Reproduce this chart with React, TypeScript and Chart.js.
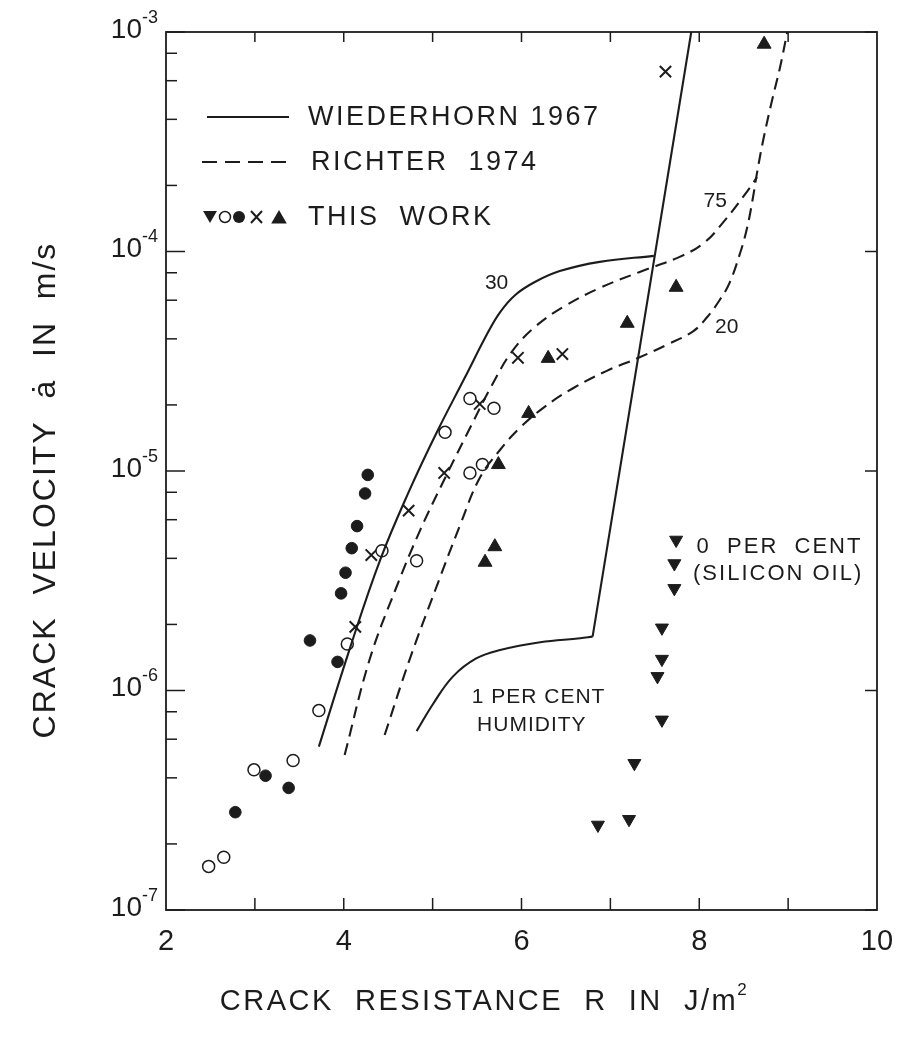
import React, { useEffect, useRef } from "react";
import { Chart, registerables } from "chart.js";

Chart.register(...registerables);

type P = [number, number];

// ---- axes / ticks ----
const xTickLabels = [2, 4, 6, 8, 10];
const xTickMarks = [3, 4, 5, 6, 7, 8, 9];
const yDecades = [1e-7, 1e-6, 1e-5, 1e-4, 1e-3];
const yDecadeExponents = ["-7", "-6", "-5", "-4", "-3"];
const yMinorMultipliers = [2, 4, 6, 8];

// ---- Wiederhorn 1967 (solid) ----
const wiederhorn30: P[] = [
  [3.72, 5.55e-7], [4.07, 1.56e-6], [4.41, 3.94e-6], [4.74, 8.18e-6], [5.05, 1.51e-5],
  [5.36, 2.65e-5], [5.62, 4.26e-5], [5.76, 5.3e-5], [5.93, 6.34e-5], [6.15, 7.26e-5],
  [6.43, 8.14e-5], [6.88, 8.97e-5], [7.49, 9.55e-5],
];
const wiederhorn1: P[] = [
  [4.82, 6.53e-7], [5.01, 8.75e-7], [5.23, 1.16e-6], [5.49, 1.4e-6], [5.76, 1.53e-6],
  [6.21, 1.66e-6], [6.66, 1.73e-6], [6.8, 1.76e-6],
];
const wiederhornRegion3: P[] = [
  [6.8, 1.76e-6], [7.91, 1e-3],
];

// ---- Richter 1974 (dashed) ----
const richter75: P[] = [
  [4.01, 5.08e-7], [4.29, 1.38e-6], [4.58, 2.87e-6], [4.86, 5.38e-6], [5.14, 9.29e-6],
  [5.42, 1.57e-5], [5.67, 2.47e-5], [5.89, 3.49e-5], [6.15, 4.53e-5], [6.49, 5.65e-5],
  [6.88, 6.82e-5], [7.33, 8.07e-5], [7.78, 9.45e-5], [8.06, 1.1e-4], [8.29, 1.39e-4],
  [8.51, 1.81e-4], [8.65, 2.18e-4],
];
const richter20: P[] = [
  [4.46, 6.27e-7], [4.74, 1.38e-6], [5.03, 2.87e-6], [5.31, 5.68e-6], [5.53, 9.29e-6],
  [5.76, 1.25e-5], [5.98, 1.57e-5], [6.26, 1.96e-5], [6.57, 2.37e-5], [6.96, 2.86e-5],
  [7.31, 3.27e-5], [7.63, 3.75e-5], [7.93, 4.33e-5], [8.09, 5.03e-5], [8.23, 6.01e-5],
  [8.34, 7.18e-5], [8.46, 9.84e-5], [8.54, 1.29e-4], [8.6, 1.72e-4], [8.65, 2.28e-4],
  [8.72, 3.22e-4], [8.82, 4.9e-4], [8.91, 6.93e-4], [8.99, 1e-3],
];

// ---- This work (symbols) ----
const openCircles: P[] = [
  [2.48, 1.58e-7], [2.65, 1.74e-7], [2.99, 4.35e-7], [3.43, 4.8e-7], [3.72, 8.1e-7],
  [4.04, 1.63e-6], [4.43, 4.33e-6], [4.82, 3.9e-6], [5.14, 1.5e-5], [5.42, 2.14e-5],
  [5.69, 1.93e-5], [5.42, 9.8e-6], [5.56, 1.07e-5],
];
const filledCircles: P[] = [
  [2.78, 2.79e-7], [3.12, 4.09e-7], [3.38, 3.6e-7], [3.62, 1.69e-6], [3.93, 1.35e-6],
  [3.97, 2.77e-6], [4.02, 3.44e-6], [4.09, 4.45e-6], [4.15, 5.61e-6], [4.24, 7.9e-6],
  [4.27, 9.6e-6],
];
const crosses: P[] = [
  [4.13, 1.95e-6], [4.31, 4.14e-6], [4.73, 6.6e-6], [5.13, 9.8e-6], [5.53, 2.02e-5],
  [5.96, 3.28e-5], [6.46, 3.41e-5], [7.62, 6.6e-4],
];
const trianglesUp: P[] = [
  [6.3, 3.26e-5], [6.08, 1.83e-5], [5.74, 1.07e-5], [5.7, 4.52e-6], [5.59, 3.84e-6],
  [8.73, 8.8e-4], [7.74, 6.87e-5], [7.19, 4.71e-5],
];
const trianglesDown: P[] = [
  [7.74, 4.85e-6], [7.72, 3.79e-6], [7.72, 2.92e-6], [7.58, 1.93e-6], [7.58, 1.39e-6],
  [7.53, 1.16e-6], [7.58, 7.35e-7], [7.27, 4.66e-7], [7.21, 2.59e-7], [6.86, 2.44e-7],
];

// ---- in-plot annotations (data coordinates) ----
const curveLabels: { text: string; x: number; y: number }[] = [
  { text: "30", x: 5.72, y: 7.2e-5 },
  { text: "75", x: 8.18, y: 1.7e-4 },
  { text: "20", x: 8.31, y: 4.53e-5 },
];
const humidityNote = { lines: ["1 PER CENT", "HUMIDITY"], x: [5.44, 5.5], y: [9.33e-7, 6.97e-7] };
const oilNote = { lines: ["0  PER  CENT", "(SILICON OIL)"], x: [7.97, 7.93], y: [4.5e-6, 3.4e-6] };

const INK = "#1c1c1c";
const FONT = '"Liberation Sans", Arial, Helvetica, sans-serif';

const toXY = (arr: P[]) => arr.map(([x, y]) => ({ x, y }));

function drawTri(ctx: CanvasRenderingContext2D, x: number, y: number, r: number, down: boolean) {
  ctx.beginPath();
  const s = down ? -1 : 1;
  ctx.moveTo(x, y - s * r);
  ctx.lineTo(x + r * 0.866, y + s * r * 0.5);
  ctx.lineTo(x - r * 0.866, y + s * r * 0.5);
  ctx.closePath();
  ctx.fill();
}

const decorPlugin = {
  id: "decor",
  afterDatasetsDraw(chart: any) {
    const { ctx, chartArea: a, scales } = chart;
    const xs = scales.x;
    const ys = scales.y;
    ctx.save();
    ctx.strokeStyle = INK;
    ctx.fillStyle = INK;
    ctx.lineWidth = 1.8;
    ctx.strokeRect(a.left, a.top, a.right - a.left, a.bottom - a.top);

    // x ticks (inward, bottom and top)
    ctx.lineWidth = 1.5;
    for (const v of xTickMarks) {
      const px = xs.getPixelForValue(v);
      ctx.beginPath();
      ctx.moveTo(px, a.bottom);
      ctx.lineTo(px, a.bottom - 12);
      ctx.moveTo(px, a.top);
      ctx.lineTo(px, a.top + 10);
      ctx.stroke();
    }
    // y ticks
    for (const d of yDecades) {
      const py = ys.getPixelForValue(d);
      ctx.beginPath();
      ctx.moveTo(a.left, py);
      ctx.lineTo(a.left + 19, py);
      ctx.moveTo(a.right, py);
      ctx.lineTo(a.right - 12, py);
      ctx.stroke();
      if (d < 1e-3) {
        for (const m of yMinorMultipliers) {
          const pm = ys.getPixelForValue(d * m);
          ctx.beginPath();
          ctx.moveTo(a.left, pm);
          ctx.lineTo(a.left + 11, pm);
          ctx.stroke();
        }
      }
    }

    // x tick labels
    ctx.font = `29px ${FONT}`;
    ctx.textAlign = "center";
    ctx.textBaseline = "middle";
    for (const v of xTickLabels) {
      ctx.fillText(String(v), xs.getPixelForValue(v), a.bottom + 32);
    }
    // y tick labels with superscripts
    yDecades.forEach((d, i) => {
      const py = ys.getPixelForValue(d);
      ctx.font = `28px ${FONT}`;
      ctx.textAlign = "right";
      ctx.textBaseline = "middle";
      ctx.fillText("10", a.left - 24, py - 2);
      ctx.font = `18px ${FONT}`;
      ctx.textAlign = "left";
      ctx.fillText(yDecadeExponents[i], a.left - 24, py - 14);
    });

    // axis titles
    ctx.save();
    ctx.font = `32px ${FONT}`;
    ctx.textAlign = "center";
    ctx.textBaseline = "middle";
    (ctx as any).letterSpacing = "2px";
    ctx.translate(46, 490);
    ctx.rotate(-Math.PI / 2);
    ctx.fillText("CRACK  VELOCITY  ȧ  IN  m/s", 0, 0);
    ctx.restore();

    ctx.save();
    ctx.font = `29px ${FONT}`;
    (ctx as any).letterSpacing = "2.5px";
    ctx.textBaseline = "middle";
    const main = "CRACK  RESISTANCE  R  IN  J/m";
    const w = ctx.measureText(main).width;
    const cx = 484;
    const left = cx - (w + 10) / 2;
    ctx.textAlign = "left";
    ctx.fillText(main, left, 1002);
    ctx.font = `17px ${FONT}`;
    ctx.fillText("2", left + w - 1, 990);
    ctx.restore();

    // legend
    ctx.save();
    ctx.lineWidth = 2.2;
    ctx.beginPath();
    ctx.moveTo(207, 117);
    ctx.lineTo(289, 117);
    ctx.stroke();
    ctx.setLineDash([15, 8]);
    ctx.beginPath();
    ctx.moveTo(202, 162);
    ctx.lineTo(289, 162);
    ctx.stroke();
    ctx.setLineDash([]);
    drawTri(ctx, 210, 215, 8, true);
    ctx.lineWidth = 1.5;
    ctx.beginPath();
    ctx.arc(225, 217, 5.5, 0, Math.PI * 2);
    ctx.stroke();
    ctx.beginPath();
    ctx.arc(239, 217, 6, 0, Math.PI * 2);
    ctx.fill();
    ctx.lineWidth = 2;
    ctx.beginPath();
    ctx.moveTo(251, 211);
    ctx.lineTo(262, 223);
    ctx.moveTo(262, 211);
    ctx.lineTo(251, 223);
    ctx.stroke();
    drawTri(ctx, 279, 219, 9, false);
    ctx.font = `27px ${FONT}`;
    (ctx as any).letterSpacing = "2.5px";
    ctx.textAlign = "left";
    ctx.textBaseline = "middle";
    ctx.fillText("WIEDERHORN 1967", 308, 118);
    ctx.fillText("RICHTER  1974", 311, 163);
    ctx.fillText("THIS  WORK", 308, 218);
    ctx.restore();

    // curve labels
    ctx.save();
    ctx.font = `21px ${FONT}`;
    ctx.textAlign = "center";
    ctx.textBaseline = "middle";
    for (const l of curveLabels) {
      ctx.fillText(l.text, xs.getPixelForValue(l.x), ys.getPixelForValue(l.y));
    }
    ctx.textAlign = "left";
    (ctx as any).letterSpacing = "1px";
    humidityNote.lines.forEach((t, i) => {
      ctx.fillText(t, xs.getPixelForValue(humidityNote.x[i]), ys.getPixelForValue(humidityNote.y[i]));
    });
    (ctx as any).letterSpacing = "2px";
    ctx.font = `22px ${FONT}`;
    oilNote.lines.forEach((t, i) => {
      ctx.fillText(t, xs.getPixelForValue(oilNote.x[i]), ys.getPixelForValue(oilNote.y[i]));
    });
    ctx.restore();

    ctx.restore();
  },
};

const whiteBg = {
  id: "whiteBg",
  beforeDraw(chart: any) {
    const { ctx, width, height } = chart;
    ctx.save();
    ctx.fillStyle = "#ffffff";
    ctx.fillRect(0, 0, width, height);
    ctx.restore();
  },
};

export default function App() {
  const ref = useRef<HTMLCanvasElement | null>(null);
  useEffect(() => {
    if (!ref.current) return;
    const lineCommon = {
      showLine: true,
      pointRadius: 0,
      borderColor: INK,
      borderWidth: 2.1,
      fill: false,
      tension: 0.4,
    };
    const chart = new Chart(ref.current, {
      type: "scatter",
      data: {
        datasets: [
          { label: "Wiederhorn 30", data: toXY(wiederhorn30), ...lineCommon },
          { label: "Wiederhorn 1", data: toXY(wiederhorn1), ...lineCommon },
          { label: "Wiederhorn III", data: toXY(wiederhornRegion3), ...lineCommon, tension: 0 },
          { label: "Richter 75", data: toXY(richter75), ...lineCommon, borderDash: [12, 7] },
          { label: "Richter 20", data: toXY(richter20), ...lineCommon, borderDash: [12, 7] },
          {
            label: "open", data: toXY(openCircles), pointStyle: "circle", pointRadius: 6,
            backgroundColor: "#ffffff", borderColor: INK, borderWidth: 1.5,
          },
          {
            label: "filled", data: toXY(filledCircles), pointStyle: "circle", pointRadius: 5.8,
            backgroundColor: INK, borderColor: INK, borderWidth: 1,
          },
          {
            label: "cross", data: toXY(crosses), pointStyle: "crossRot", pointRadius: 8,
            borderColor: INK, borderWidth: 2,
          },
          {
            label: "up", data: toXY(trianglesUp), pointStyle: "triangle", pointRadius: 8,
            backgroundColor: INK, borderColor: INK, borderWidth: 1,
          },
          {
            label: "down", data: toXY(trianglesDown), pointStyle: "triangle", pointRotation: 180,
            pointRadius: 7.5, backgroundColor: INK, borderColor: INK, borderWidth: 1,
          },
        ],
      },
      options: {
        responsive: false,
        animation: false,
        devicePixelRatio: 1,
        layout: { padding: { left: 166, right: 24, top: 32, bottom: 138 } },
        scales: {
          x: { type: "linear", min: 2, max: 10, display: false },
          y: { type: "logarithmic", min: 1e-7, max: 1e-3, display: false },
        },
        plugins: { legend: { display: false }, tooltip: { enabled: false } },
        events: [],
      },
      plugins: [whiteBg, decorPlugin],
    });
    return () => chart.destroy();
  }, []);
  return (
    <div style={{ position: "absolute", left: 0, top: 0, width: 901, height: 1048, background: "#fff" }}>
      <canvas ref={ref} width={901} height={1048} style={{ display: "block", width: 901, height: 1048 }} />
    </div>
  );
}
